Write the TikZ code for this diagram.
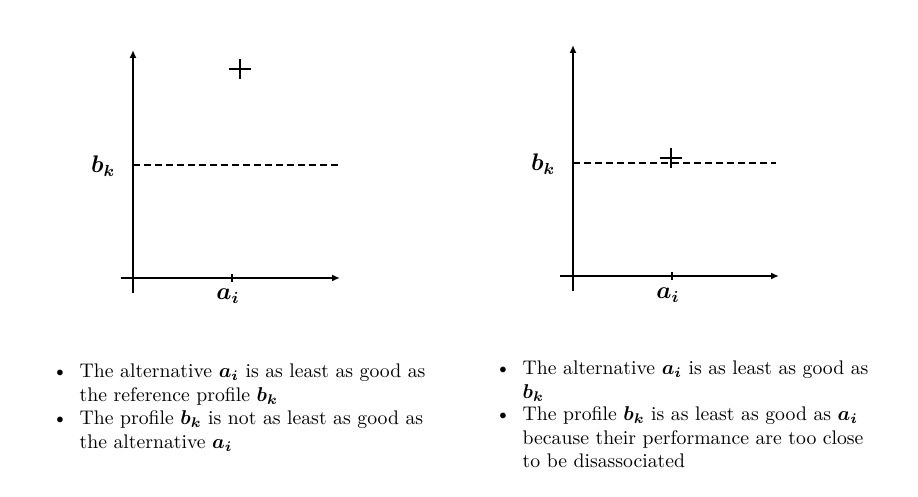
\documentclass[tikz,border=0pt]{standalone}
\usepackage{amsmath}
\usepackage{bm}
\usetikzlibrary{arrows.meta,calc}
\definecolor{plotInk}{HTML}{000000}
\newcommand{\axislabel}[1]{{\fontsize{11.5}{13}\selectfont$\bm{#1}$}}
\newcommand{\bulletitem}[2]{%
  \begin{tabular}[t]{@{}l@{\hspace{6pt}}l@{}}\textbullet & #1\\ & #2\end{tabular}}

\begin{document}
\begin{tikzpicture}[
  x=0.5pt, y=-0.5pt,
  axis/.style={-{Latex[length=4pt,width=3.5pt]}, draw=plotInk, line width=1pt},
  tickmark/.style={draw=plotInk, line width=1pt},
  profile/.style={draw=plotInk, dash pattern=on 3.5pt off 2pt, line width=0.75pt},
  perf/.style={draw=plotInk, line width=1.4pt},
  caption/.style={anchor=base west, inner sep=0pt, text=plotInk,
    font=\fontsize{9.85}{11.7}\selectfont}
]
\useasboundingbox (0,0) rectangle (918,497);

% Left chart: the alternative lies above the profile.
\coordinate (ybot1) at (133,293);
\coordinate (ytop1) at (133,50);
\coordinate (xlft1) at (121,278);
\coordinate (xrgt1) at (340,278);
\coordinate (tick1) at (232,278);
\coordinate (bkl1) at (133,165);
\coordinate (bkr1) at (338,165);
\coordinate (perf1) at (240,69);

\draw[axis] (ybot1) -- (ytop1);
\draw[axis] (xlft1) -- (xrgt1);
\draw[tickmark] ($(tick1)+(0,-4)$) -- ($(tick1)+(0,4)$);
\draw[profile] (bkl1) -- (bkr1);
\draw[perf] ($(perf1)+(-11,0)$) -- ($(perf1)+(11,0)$)
  ($(perf1)+(0,-10)$) -- ($(perf1)+(0,10)$);
\node (bk1) at (103,166) {\axislabel{b_k}};
\node (ai1) at (228,296) {\axislabel{a_i}};

% Right chart: the alternative sits on the profile.
\coordinate (ybot2) at (573,291);
\coordinate (ytop2) at (573,45);
\coordinate (xlft2) at (560,276);
\coordinate (xrgt2) at (779,276);
\coordinate (tick2) at (672,276);
\coordinate (bkl2) at (573,163);
\coordinate (bkr2) at (776,163);
\coordinate (perf2) at (671,158);

\draw[axis] (ybot2) -- (ytop2);
\draw[axis] (xlft2) -- (xrgt2);
\draw[tickmark] ($(tick2)+(0,-4)$) -- ($(tick2)+(0,4)$);
\draw[profile] (bkl2) -- (bkr2);
\draw[perf] ($(perf2)+(-11,0)$) -- ($(perf2)+(11,0)$)
  ($(perf2)+(0,-10)$) -- ($(perf2)+(0,10)$);
\node (bk2) at (543,164) {\axislabel{b_k}};
\node (ai2) at (668,295) {\axislabel{a_i}};

% Captions under each chart.
\node[caption] (cap1a) at (52,378)
  {\bulletitem{The alternative $\bm{a_i}$ is as least as good as}{the reference profile $\bm{b_k}$}};
\node[caption] (cap1b) at (52,425)
  {\bulletitem{The profile $\bm{b_k}$ is not as least as good as}{the alternative $\bm{a_i}$}};

\node[caption] (cap2a) at (495,375)
  {\bulletitem{The alternative $\bm{a_i}$ is as least as good as}{$\bm{b_k}$}};
\node[caption] (cap2b) at (495,421)
  {\begin{tabular}[t]{@{}l@{\hspace{6pt}}l@{}}\textbullet & The profile $\bm{b_k}$ is as least as good as $\bm{a_i}$\\
    & because their performance are too close\\ & to be disassociated\end{tabular}};

\end{tikzpicture}
\end{document}
